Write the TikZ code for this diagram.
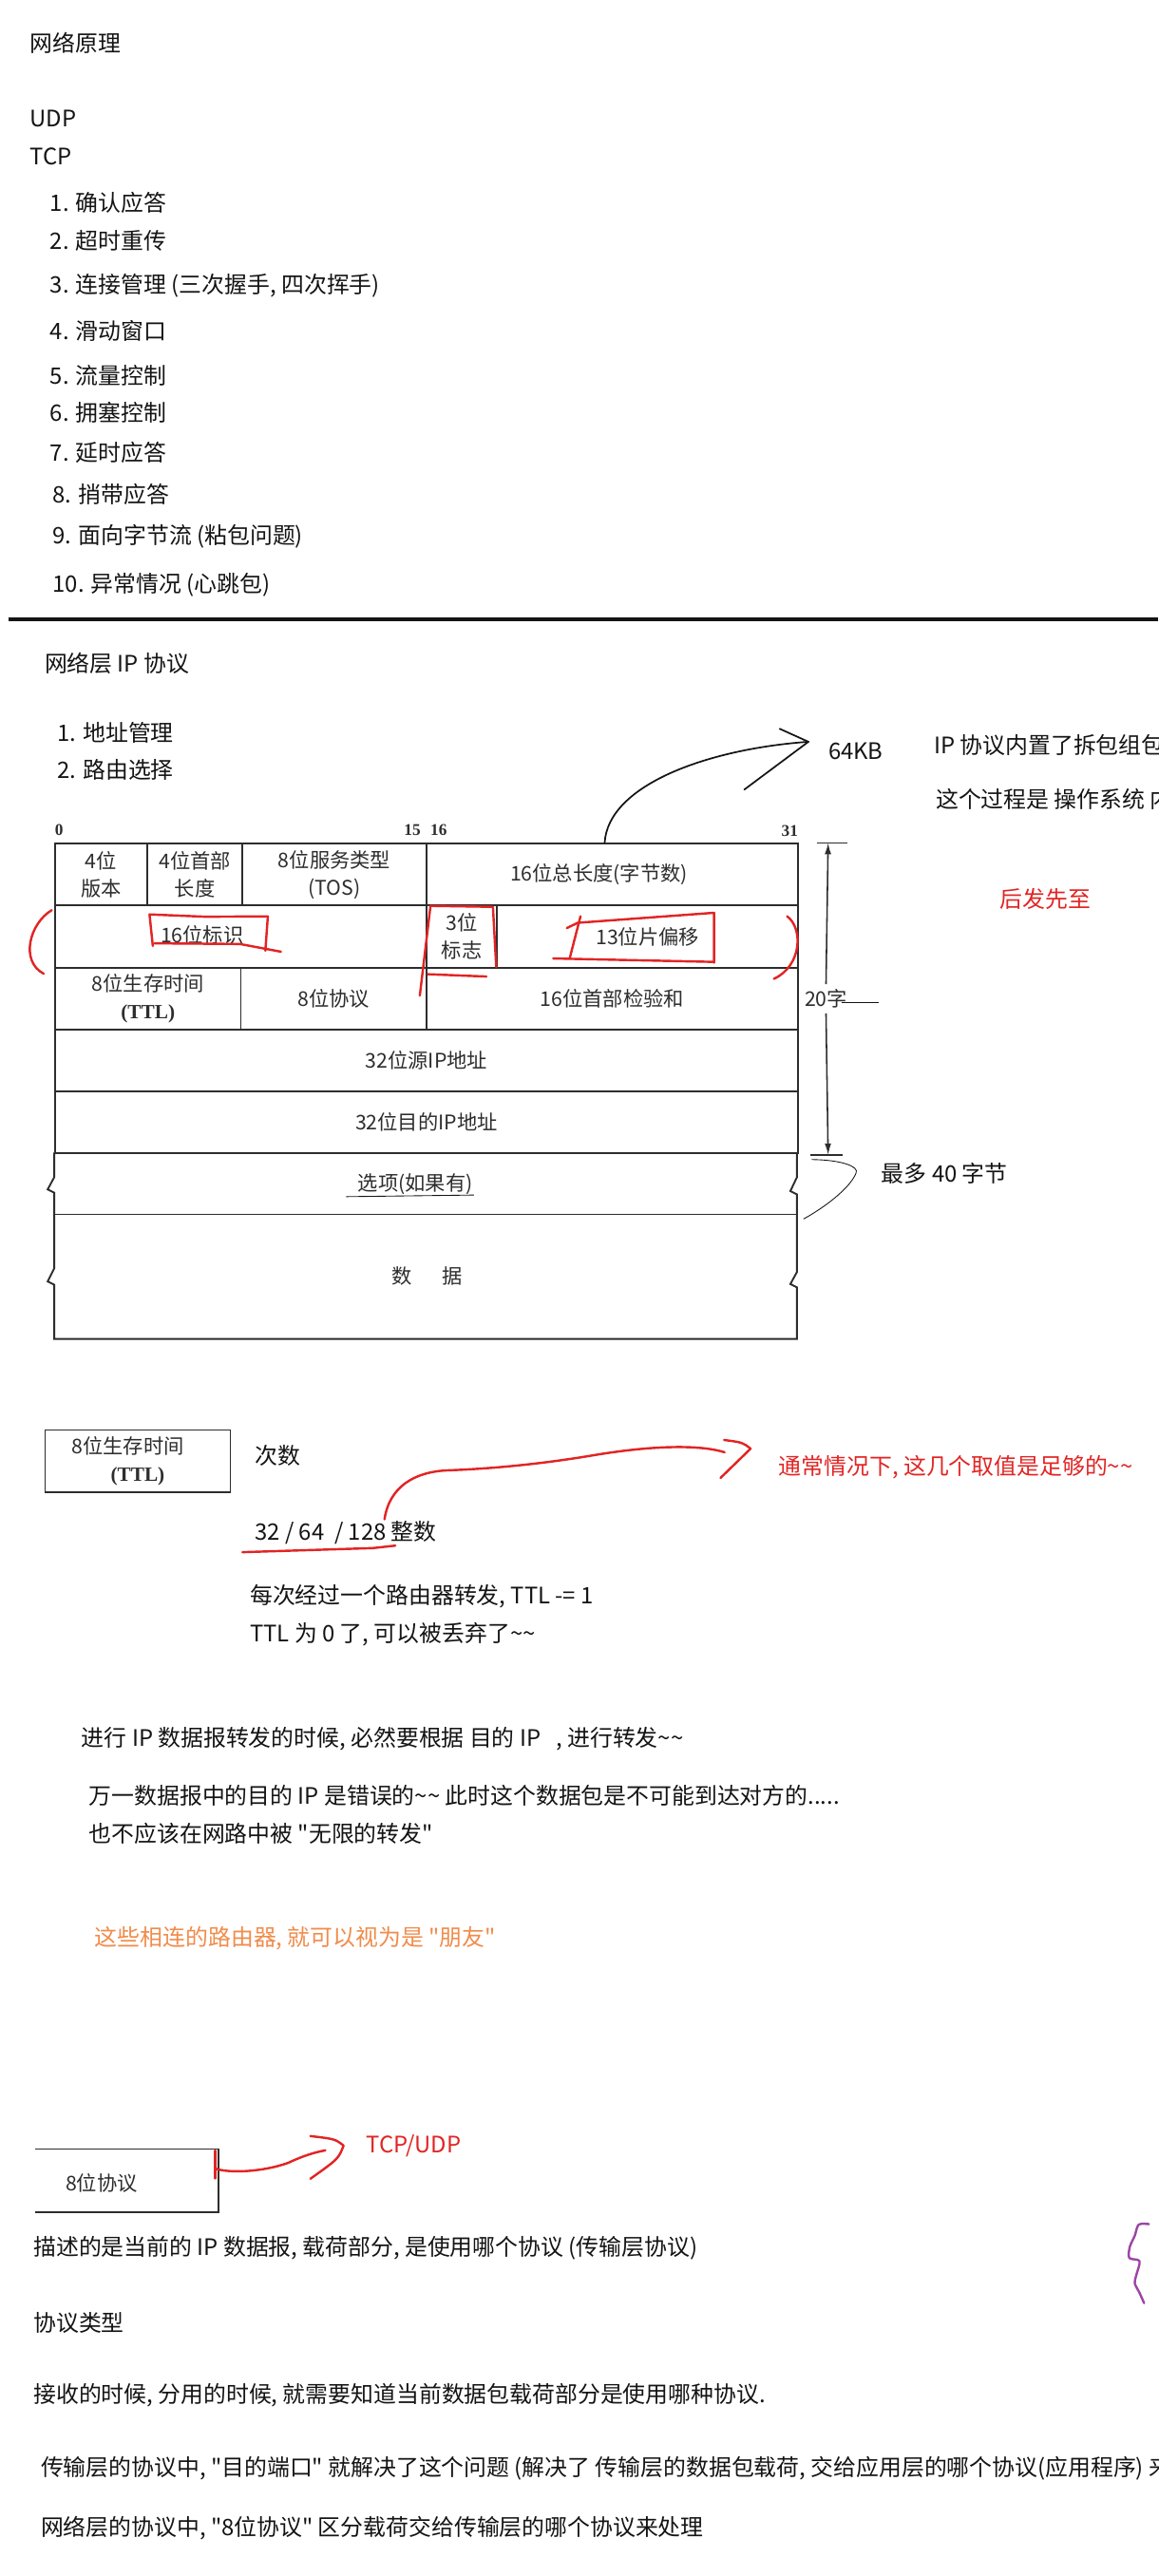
\documentclass[tikz,border=0pt]{standalone}
\usepackage{fontspec}
\setmainfont{Noto Sans CJK SC}[Ligatures=TeXOff]
\newfontfamily\bookfont{Liberation Serif}
\usetikzlibrary{
  arrows.meta,
  positioning,
  calc
}
\newcommand{\wavy}{\textasciitilde\textasciitilde}
\newcommand{\tabfont}{\fontsize{12.3}{16.5}\selectfont}
\definecolor{inkblack}{RGB}{20,20,20}
\definecolor{penred}{RGB}{226,36,36}
\definecolor{noteorange}{RGB}{240,140,75}
\definecolor{penpurple}{RGB}{155,70,165}
\definecolor{scangray}{RGB}{45,45,45}
\tikzset{
  note/.style={
    anchor=west,
    inner sep=0pt,
    text=inkblack,
    font=\fontsize{13.8}{16}\selectfont
  },
  rednote/.style={note,text=penred},
  orangenote/.style={note,text=noteorange},
  cell/.style={
    draw=scangray,
    line width=1.1pt,
    anchor=north west,
    minimum height=37.7pt,
    inner sep=0pt,
    align=center,
    text=scangray,
    font=\tabfont
  },
  tabtext/.style={inner sep=0pt,align=center,text=scangray,font=\tabfont},
  bitnum/.style={inner sep=0pt,text=scangray,font=\bookfont\bfseries\fontsize{10}{11}\selectfont},
  gridline/.style={draw=scangray,line width=1.1pt},
  redpen/.style={draw=penred,line width=1.4pt,line cap=round,line join=round},
  blackpen/.style={draw=inkblack,line width=1pt,line cap=round,line join=round},
  thinpen/.style={draw=inkblack,line width=0.5pt},
  dimarrow/.style={-{Latex[length=7pt,width=4pt]},line width=0.9pt,draw=scangray}
}

\begin{document}
\begin{tikzpicture}[x=1pt,y=-1pt]
  \fill[white] (0,0) rectangle (705,1568);
  \useasboundingbox (0,0) rectangle (705,1568);

  % TCP overview
  \node[note] (title) at (18,26) {网络原理};
  \node[note] (udp) at (18,72.5) {UDP};
  \node[note] (tcp) at (18,95.5) {TCP};
  \foreach \x/\y/\txt [count=\i] in {
      30.4/123.3/确认应答, 30.4/146.6/超时重传,
      30.4/174/{连接管理 (三次握手, 四次挥手)}, 30.4/201.3/滑动窗口,
      30.4/228.5/流量控制, 30.4/251.1/拥塞控制, 30.4/275.4/延时应答,
      32/301/捎带应答, 32/326.5/{面向字节流 (粘包问题)},
      32/356.2/{异常情况 (心跳包)}}
    \node[note] (tcp\i) at (\x,\y) {\i. \txt};
  \draw[line width=2.4pt,inkblack] (5,377) -- (705,377);

  % IP section
  \node[note] (ipsec) at (27,404) {网络层 IP 协议};
  \node[note] (addr) at (34.7,446) {1. 地址管理};
  \node[note,below=9.2pt of addr.south west,anchor=north west] (route) {2. 路由选择};
  \node[note,inner sep=3pt] (kb) at (501,457.5) {64KB};
  \node[note] (split) at (568.3,453.6) {IP 协议内置了拆包组包};
  \node[note] (osnote) at (569.4,486.4) {这个过程是 操作系统 内};
  \node[rednote] (late) at (608.6,547.3) {后发先至};

  % header table
  \node[bitnum] (b0) at (36,505) {0};
  \node[bitnum] (b15) at (251,505) {15};
  \node[bitnum] (b16) at (267,505) {16};
  \node[bitnum] (b31) at (480.6,506) {31};

  \node[cell,minimum width=56pt] (ver) at (33,513) {4位\\版本};
  \node[cell,minimum width=58pt] (hlen) at (89,513) {4位首部\\长度};
  \node[cell,minimum width=112pt] (tos) at (147,513) {8位服务类型\\(TOS)};
  \node[cell,minimum width=226pt] (tlen) at (259,513) {\hspace*{-16pt}16位总长度(字节数)};

  \node[cell,minimum width=226pt] (ident) at (33,550.7) {};
  \node[tabtext] (identlbl) at (123,569) {16位标识};
  \node[cell,minimum width=43pt] (flags) at (259,550.7) {3位\\标志};
  \node[cell,minimum width=183pt] (frag) at (302,550.7) {13位片偏移};

  \node[cell,minimum width=113pt] (ttl) at (33,588.4)
    {8位生存时间\\{\bookfont\bfseries (TTL)}};
  \node[cell,minimum width=113pt] (proto) at (146,588.4) {8位协议};
  \node[cell,minimum width=226pt] (cksum) at (259,588.4) {16位首部检验和};

  \node[cell,minimum width=452pt] (src) at (33,626.1) {32位源IP地址};
  \node[cell,minimum width=452pt] (dst) at (33,663.8) {32位目的IP地址};

  \node[tabtext] (opt) at (252.8,720.6) {选项(如果有)};
  \node[tabtext] (payload) at (260,776.7) {数\hspace{1.5em}据};
  \draw[gridline] (33,739.2) -- (485,739.2);
  \draw[gridline] (33,701.5) -- (33,716.6) -- (29,724) -- (33,726) -- (33,772)
    -- (29,780) -- (33,782) -- (33,815) -- (485,815) -- (485,783.6)
    -- (481,781.6) -- (485,774.3) -- (485,727) -- (481,725) -- (485,716.6)
    -- (485,701.5);
  \draw[thinpen] (210.7,728.4) -- (288.5,727.4);

  % 20 byte dimension
  \coordinate (dimtop) at (504,513);
  \coordinate (dimbot) at (504,703);
  \node[tabtext,inner ysep=3pt] (lbl20) at (502.7,608) {20字};
  \draw[thinpen,line width=0.9pt,draw=scangray] (497,513) -- (516,513);
  \draw[thinpen,line width=0.9pt,draw=scangray] (493,703) -- (513,703);
  \draw[dimarrow] (lbl20.north) -- (dimtop);
  \draw[dimarrow] (lbl20.south) -- (dimbot);
  \draw[thinpen] (512,610) -- (535,610);

  \node[note] (max40) at (536.3,714.3) {最多 40 字节};
  \draw[thinpen] (494,705.8) .. controls (512,706) and (523,710) .. (521,714)
    .. controls (517,724) and (500,736) .. (489,742);

  % 64KB note
  \coordinate (kbtip) at ($(kb.west)+(-9,-6)$);
  \draw[blackpen] ($(tlen.north west)+(109,0)$) .. controls (370,478) and (430,456) .. (kbtip);
  \draw[blackpen] (474.5,443.6) -- (kbtip) -- (453,480.6);

  % red pen marks on the header
  \draw[redpen] (31.5,554) .. controls (18,562) and (12,585) .. (26.6,592.7);
  \draw[redpen] (479,557.7) .. controls (489,565) and (488,588) .. (471,595.8);
  \draw[redpen] (93,575.8) -- (91,556.6) -- (125,558) -- (163,557.8) -- (161.5,578.7);
  \draw[redpen] (94,574.2) -- (146,574.6) -- (171,579.3);
  \draw[redpen] (255.5,606) -- (262,551.4) -- (300,552) -- (302,588.6);
  \draw[redpen] (260.4,593) -- (296,594.4);
  \draw[redpen] (345,564.9) -- (351.6,561.7) -- (434.6,555.6) -- (434.6,586);
  \draw[redpen] (336.7,583.4) -- (434.6,585.5);
  \draw[redpen] (353.3,557.7) -- (346.7,583.4);

  % TTL
  \node[cell,minimum width=112.7pt,minimum height=38pt,line width=0.9pt] (ttlbox) at (27,870)
    {\hspace*{-12pt}8位生存时间\\{\bookfont\bfseries (TTL)}};
  \node[note] (times) at (155,886) {次数};
  \node[note] (vals) at (155,933) {32 / 64\ \ / 128 整数};
  \draw[redpen] (147.5,944.8) -- (227,942.3) -- (240.6,940.8);
  \node[rednote] (enough) at (473.8,892.8) {通常情况下, 这几个取值是足够的\wavy};
  \coordinate (enoughtip) at ($(enough.west)+(-17,-11)$);
  \draw[redpen] ($(vals.north west)+(79,-1)$) .. controls (237,905) and (252,896) .. (272,895)
    .. controls (300,894) and (330,891) .. (360,886)
    .. controls (395,880) and (425,879) .. (441,884);
  \draw[redpen] (440.7,876.5) .. controls (452,878) .. (enoughtip) -- (438.5,899.6);

  \node[note] (hop) at (152,971.5) {每次经过一个路由器转发, TTL -= 1};
  \node[note] (drop) at (152,995) {TTL 为 0 了, 可以被丢弃了\wavy};

  \node[note] (fwd) at (49.5,1058.5)
    {进行 IP 数据报转发的时候, 必然要根据 目的 IP\ \ \ , 进行转发\wavy};
  \node[note] (wrong) at (54,1093)
    {万一数据报中的目的 IP 是错误的\wavy{} 此时这个数据包是不可能到达对方的.....};
  \node[note] (loop) at (54,1116) {也不应该在网路中被 "无限的转发"};
  \node[orangenote] (friend) at (57.6,1180) {这些相连的路由器, 就可以视为是 "朋友"};

  % protocol field
  \node[minimum width=111pt,minimum height=38pt,anchor=north west,inner sep=0pt] (protobox) at (21.6,1308) {};
  \draw[gridline,line width=0.9pt] (protobox.north west) -- (protobox.north east)
    -- (protobox.south east) -- (protobox.south west);
  \node[tabtext] (protolbl) at (61.8,1329) {8位协议};
  \node[rednote] (tcpudp) at (222.6,1306) {TCP/UDP};
  \coordinate (tcptip) at ($(tcpudp.west)+(-13.5,0)$);
  \draw[redpen] (protobox.north east) ++(-2,1) -- ++(0,17);
  \draw[redpen] ($(protobox.north east)+(-2,12)$) .. controls (140,1323) and (160,1322) .. (175.4,1316.5)
    .. controls (185,1312) and (192,1310) .. (198,1308.9);
  \draw[redpen] (188.9,1300.2) .. controls (204,1302) .. (tcptip)
    .. controls (206,1314) .. (188.9,1326.2);

  \draw[draw=penpurple,line width=1.4pt,line cap=round,line join=round]
    plot[smooth] coordinates {(699.2,1353.8) (693,1354.1) (690.6,1360.9) (687.6,1367.6)
      (687.3,1374.4) (693.5,1376.3) (691.5,1385) (690.6,1389.8) (693.5,1395.6) (696.3,1401.9)};

  \node[note] (desc) at (20.2,1368.5) {描述的是当前的 IP 数据报, 载荷部分, 是使用哪个协议 (传输层协议)};
  \node[note] (ptype) at (20.2,1414) {协议类型};
  \node[note] (recv) at (20.2,1458) {接收的时候, 分用的时候, 就需要知道当前数据包载荷部分是使用哪种协议.};
  \node[note] (port) at (24.7,1502.5)
    {传输层的协议中, "目的端口" 就解决了这个问题 (解决了 传输层的数据包载荷, 交给应用层的哪个协议(应用程序) 来};
  \node[note] (netp) at (24.7,1539) {网络层的协议中, "8位协议" 区分载荷交给传输层的哪个协议来处理};
\end{tikzpicture}
\end{document}
